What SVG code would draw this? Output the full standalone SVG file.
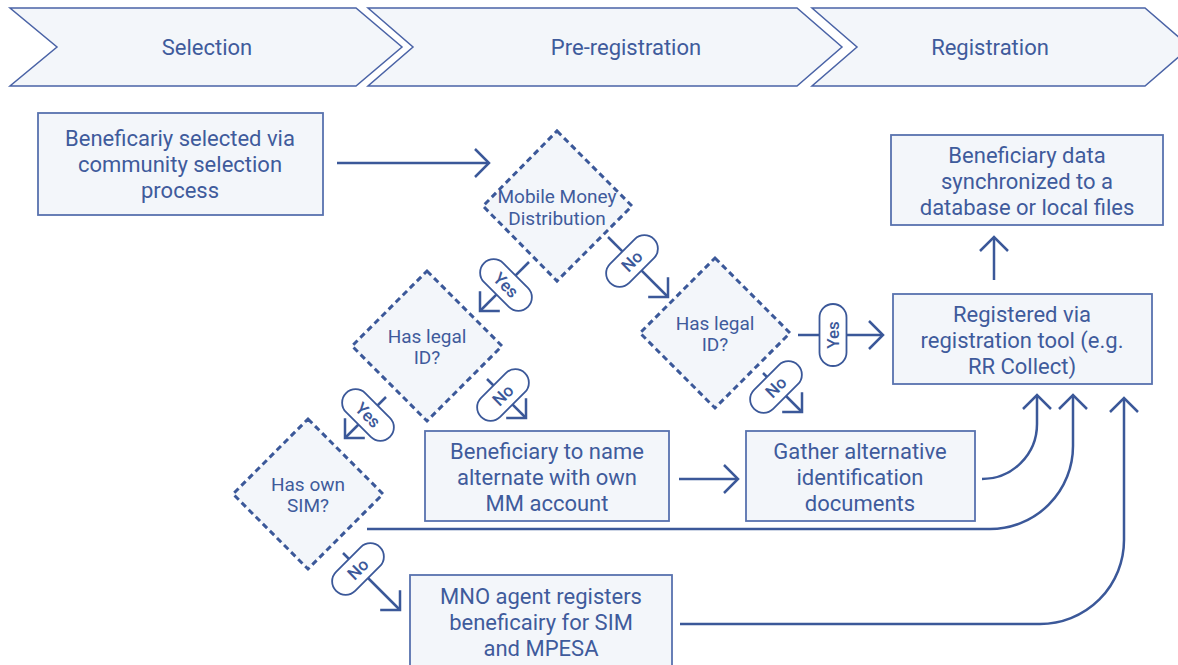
<svg xmlns="http://www.w3.org/2000/svg" width="1178" height="665" viewBox="0 0 1178 665">
  <defs>
    <style>
      .phase { fill: #f3f6fa; stroke: #4a63a6; stroke-width: 1.5; }
      .box { fill: #f3f6fa; stroke: #5872ae; stroke-width: 1.8; }
      .dec { fill: #f3f6fa; stroke: #3b5899; stroke-width: 3; stroke-dasharray: 6 4; }
      .lbl { font-family: Roboto, "Liberation Sans", sans-serif; font-size: 22px; fill: #3f5b9c; text-anchor: middle; }
      .dlbl { font-family: Roboto, "Liberation Sans", sans-serif; font-size: 19px; fill: #3f5b9c; text-anchor: middle; }
      .conn { fill: none; stroke: #3b5899; stroke-width: 2.5; marker-end: url(#arrow); }
      .pill { fill: #ffffff; stroke: #3b5899; stroke-width: 1.8; }
      .plbl { font-family: Roboto, "Liberation Sans", sans-serif; font-size: 17px; font-weight: 500; fill: #3b5899; text-anchor: middle; }
    </style>
    <marker id="arrow" markerUnits="userSpaceOnUse" markerWidth="40" markerHeight="40" viewBox="-20 -20 40 40" refX="0" refY="0" orient="auto">
      <path d="M -14 -14 L 0 0 L -14 14" fill="none" stroke="#3b5899" stroke-width="2.5"/>
    </marker>
  </defs>

  <!-- phase banners -->
  <g id="phase-selection">
    <polygon class="phase" points="10,8 356,8 402,47 356,86 10,86 57,47"/>
    <text class="lbl" x="207" y="55">Selection</text>
  </g>
  <g id="phase-preregistration">
    <polygon class="phase" points="368,8 797,8 842,47 797,86 368,86 413,47"/>
    <text class="lbl" x="626" y="55">Pre-registration</text>
  </g>
  <g id="phase-registration">
    <polygon class="phase" points="812,8 1145,8 1190,47 1145,86 812,86 857,47"/>
    <text class="lbl" x="990" y="55">Registration</text>
  </g>

  <!-- connectors -->
  <g id="connectors">
    <path class="conn" d="M 337 163 H 489"/>
    <path class="conn" d="M 529 262 L 480 311"/>
    <path class="conn" d="M 608 237 L 668 297"/>
    <path class="conn" d="M 386 397 L 345 438"/>
    <path class="conn" d="M 487 379 L 526 418"/>
    <path class="conn" d="M 798 335 H 883"/>
    <path class="conn" d="M 763 373 L 802 412"/>
    <path class="conn" d="M 343 553 L 400 610"/>
    <path class="conn" d="M 679 479 H 738"/>
    <path class="conn" d="M 994 280 V 237"/>
    <path class="conn" d="M 367 529 H 990 A 83 83 0 0 0 1073 446 V 395"/>
    <path class="conn" d="M 982 479 A 55 55 0 0 0 1037 424 V 395"/>
    <path class="conn" d="M 680 624 H 1040 A 84 84 0 0 0 1124 540 V 398"/>

    <!-- edge labels -->
    <g transform="translate(506 285) rotate(45)">
      <rect class="pill" x="-31" y="-13.5" width="62" height="27" rx="13.5"/>
      <text class="plbl" x="0" y="6">Yes</text>
    </g>
    <g transform="translate(632 261) rotate(-45)">
      <rect class="pill" x="-31" y="-13.5" width="62" height="27" rx="13.5"/>
      <text class="plbl" x="0" y="6">No</text>
    </g>
    <g transform="translate(368 415) rotate(45)">
      <rect class="pill" x="-31" y="-13.5" width="62" height="27" rx="13.5"/>
      <text class="plbl" x="0" y="6">Yes</text>
    </g>
    <g transform="translate(503 395) rotate(-45)">
      <rect class="pill" x="-31" y="-13.5" width="62" height="27" rx="13.5"/>
      <text class="plbl" x="0" y="6">No</text>
    </g>
    <g transform="translate(833 335) rotate(-90)">
      <rect class="pill" x="-31" y="-13.5" width="62" height="27" rx="13.5"/>
      <text class="plbl" x="0" y="6">Yes</text>
    </g>
    <g transform="translate(776 387) rotate(-45)">
      <rect class="pill" x="-31" y="-13.5" width="62" height="27" rx="13.5"/>
      <text class="plbl" x="0" y="6">No</text>
    </g>
    <g transform="translate(358 569) rotate(-45)">
      <rect class="pill" x="-31" y="-13.5" width="62" height="27" rx="13.5"/>
      <text class="plbl" x="0" y="6">No</text>
    </g>
  </g>

  <!-- process boxes -->
  <g id="selected">
    <rect class="box" x="38" y="113" width="285" height="102"/>
    <text class="lbl" x="180" y="146">Beneficariy selected via</text>
    <text class="lbl" x="180" y="172">community selection</text>
    <text class="lbl" x="180" y="198">process</text>
  </g>
  <g id="synchronized">
    <rect class="box" x="891" y="135" width="272" height="90"/>
    <text class="lbl" x="1027" y="163">Beneficiary data</text>
    <text class="lbl" x="1027" y="189">synchronized to a</text>
    <text class="lbl" x="1027" y="215">database or local files</text>
  </g>
  <g id="registered">
    <rect class="box" x="893" y="294" width="259" height="90"/>
    <text class="lbl" x="1022" y="322">Registered via</text>
    <text class="lbl" x="1022" y="348">registration tool (e.g.</text>
    <text class="lbl" x="1022" y="374">RR Collect)</text>
  </g>
  <g id="name-alternate">
    <rect class="box" x="425" y="431" width="244" height="90"/>
    <text class="lbl" x="547" y="459">Beneficiary to name</text>
    <text class="lbl" x="547" y="485">alternate with own</text>
    <text class="lbl" x="547" y="511">MM account</text>
  </g>
  <g id="alt-documents">
    <rect class="box" x="746" y="431" width="229" height="90"/>
    <text class="lbl" x="860" y="459">Gather alternative</text>
    <text class="lbl" x="860" y="485">identification</text>
    <text class="lbl" x="860" y="511">documents</text>
  </g>
  <g id="mno-agent">
    <rect class="box" x="410" y="575" width="262" height="100"/>
    <text class="lbl" x="541" y="604">MNO agent registers</text>
    <text class="lbl" x="541" y="630">beneficairy for SIM</text>
    <text class="lbl" x="541" y="656">and MPESA</text>
  </g>

  <!-- decisions -->
  <g id="mobile-money">
    <polygon class="dec" points="557,131 632,206 557,281 483,206"/>
    <text class="dlbl" x="557" y="203" font-size="20">Mobile Money</text>
    <text class="dlbl" x="557" y="225" font-size="20">Distribution</text>
  </g>
  <g id="legal-id-left">
    <polygon class="dec" points="427,271 502,346 427,421 352,346"/>
    <text class="dlbl" x="427" y="343">Has legal</text>
    <text class="dlbl" x="427" y="364">ID?</text>
  </g>
  <g id="legal-id-right">
    <polygon class="dec" points="715,258 790,333 715,408 640,333"/>
    <text class="dlbl" x="715" y="330">Has legal</text>
    <text class="dlbl" x="715" y="351">ID?</text>
  </g>
  <g id="own-sim">
    <polygon class="dec" points="308,419 383,494 308,569 233,494"/>
    <text class="dlbl" x="308" y="491">Has own</text>
    <text class="dlbl" x="308" y="512">SIM?</text>
  </g>
</svg>
